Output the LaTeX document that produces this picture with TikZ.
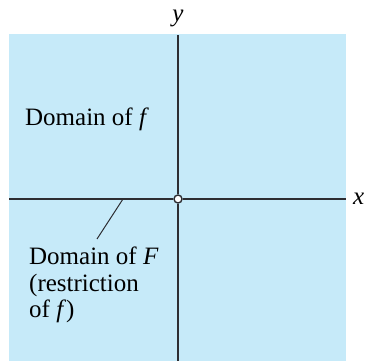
\documentclass[tikz,border=0pt]{standalone}
\usepackage{fontspec}
\setmainfont{Liberation Serif}
\usetikzlibrary{positioning}
\definecolor{domainblue}{RGB}{198,234,249}
\definecolor{axisgray}{RGB}{45,45,50}

\begin{document}
\begin{tikzpicture}[x=1pt, y=1pt,
    every node/.style={font=\fontsize{25}{26.5}\selectfont, inner sep=0pt},
    axis/.style={draw=axisgray, line width=1.4pt},
    origin/.style={circle, draw=axisgray, fill=white, line width=1.4pt,
                   minimum size=8pt}
  ]
  \useasboundingbox (0,0) rectangle (365,361);
  \fill[domainblue] (9,0) rectangle (346,327);

  % axes
  \node[origin] (o) at (178,162) {};
  \coordinate (xl) at (9,162);
  \coordinate (xr) at (346,162);
  \coordinate (yb) at (178,0);
  \coordinate (yt) at (178,326);
  \draw[axis] (xl) -- (o.west) (o.east) -- (xr);
  \draw[axis] (yb) -- (o.south) (o.north) -- (yt);
  \node[right=7pt of xr] (xlab) {\textit{x}};
  \node[above=8pt of yt] (ylab) {\textit{y}};

  % labels
  \node[anchor=base west] (domf) at (25,235) {Domain of \textit{f}};
  \node[anchor=north west, align=left] (domF) at (29,114)
    {Domain of \textit{F}\\(restriction\\of \textit{f})};
  \coordinate (tip) at (123,162);
  \coordinate (lead) at (97,122);
  \draw[axisgray, line width=1pt] (tip) -- (lead);
\end{tikzpicture}
\end{document}
